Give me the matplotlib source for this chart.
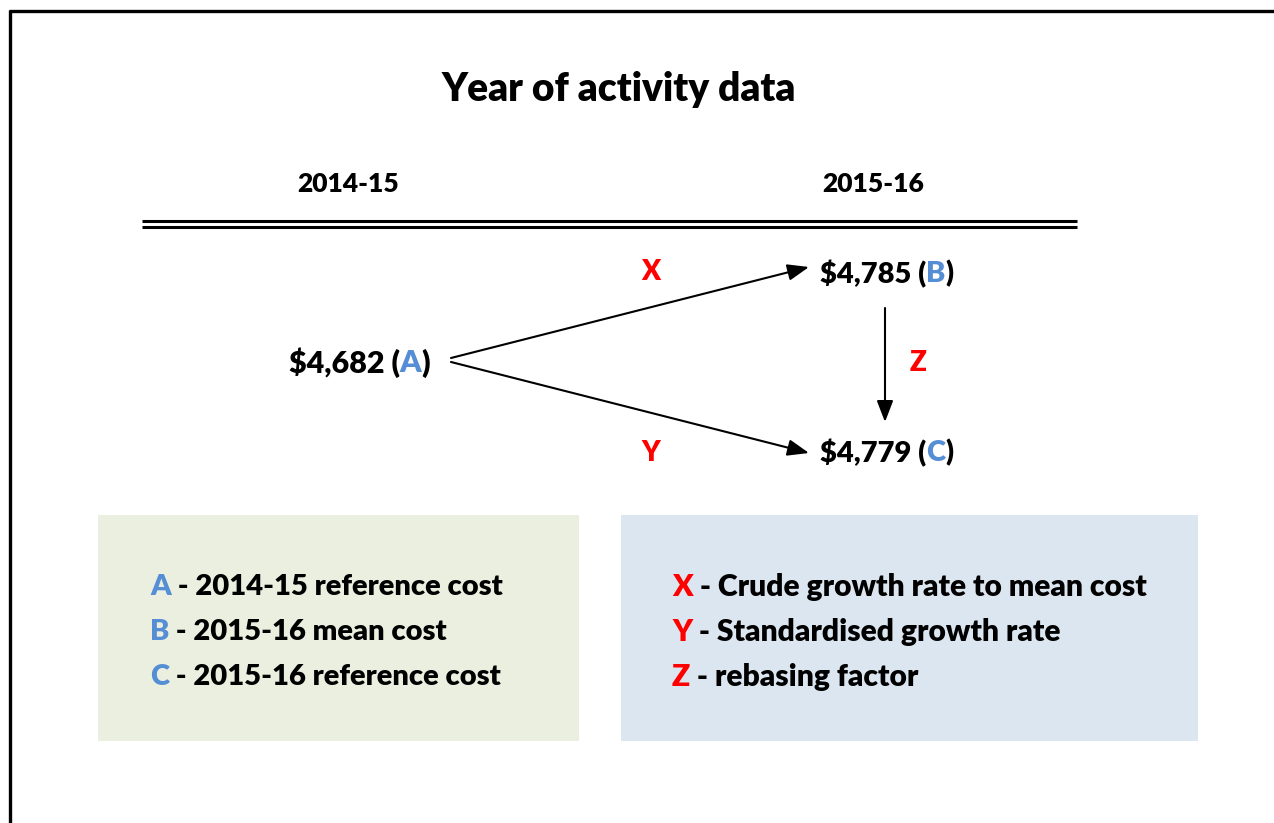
import matplotlib.pyplot as plt
from matplotlib.patches import Rectangle

# ---- data ----
title = "Year of activity data"
years = ["2014-15", "2015-16"]
costs = ["$4,682", "$4,785", "$4,779"]
cost_keys = ["A", "B", "C"]
growth_keys = ["X", "Y", "Z"]
key_desc = ["2014-15 reference cost", "2015-16 mean cost", "2015-16 reference cost"]
growth_desc = ["Crude growth rate to mean cost", "Standardised growth rate", "rebasing factor"]

BLUE = "#558ed5"
RED = "#ff0000"
FONT = "Lato"
W = "heavy"

plt.rcParams['font.family'] = [FONT, 'DejaVu Sans']

fig = plt.figure(figsize=(12.74, 8.23), dpi=100)
ax = fig.add_axes([0, 0, 1, 1])
ax.set_xlim(0, 1274)
ax.set_ylim(823, 0)
ax.axis("off")
renderer = fig.canvas.get_renderer()


def parts_text(x, y, parts, size, ha="left"):
    # draw a row of coloured pieces, measuring each one
    objs = []
    widths = []
    for s, c in parts:
        t = ax.text(0, y, s, color=c, fontsize=size, fontweight=W,
                    va="center", ha="left")
        widths.append(t.get_window_extent(renderer).width)
        objs.append(t)
    total = sum(widths)
    if ha == "center":
        x0 = x - total / 2
    elif ha == "right":
        x0 = x - total
    else:
        x0 = x
    for t, w in zip(objs, widths):
        t.set_x(x0)
        x0 += w


# frame (top + left only)
ax.plot([9, 1274], [11, 11], color="black", lw=2.4, solid_capstyle="butt")
ax.plot([9.5, 9.5], [10, 823], color="black", lw=2.4, solid_capstyle="butt")

# title + column headers
ax.text(619, 89, title, fontsize=28, fontweight=W, ha="center", va="center")
ax.text(348, 184, years[0], fontsize=19, fontweight=W, ha="center", va="center")
ax.text(873, 184, years[1], fontsize=19, fontweight=W, ha="center", va="center")

# double rule
ax.plot([142, 1077], [221, 221], color="black", lw=2.2, solid_capstyle="butt")
ax.plot([142, 1077], [226.5, 226.5], color="black", lw=2.2, solid_capstyle="butt")

# cost values
parts_text(430, 363, [(costs[0] + " (", "black"), (cost_keys[0], BLUE), (")", "black")], 22, ha="right")
parts_text(820, 274, [(costs[1] + " (", "black"), (cost_keys[1], BLUE), (")", "black")], 21)
parts_text(820, 453, [(costs[2] + " (", "black"), (cost_keys[2], BLUE), (")", "black")], 21)

# arrows
aprops = dict(arrowstyle="-|>,head_length=1.3,head_width=0.5", color="black", lw=1.5,
              shrinkA=0, shrinkB=0)
ax.annotate("", xy=(809, 267), xytext=(451, 358), arrowprops=aprops)
ax.annotate("", xy=(809, 453), xytext=(451, 362), arrowprops=aprops)
ax.annotate("", xy=(885, 422), xytext=(885, 308), arrowprops=aprops)

ax.text(651, 272, growth_keys[0], color=RED, fontsize=20, fontweight=W, ha="center", va="center")
ax.text(651, 453, growth_keys[1], color=RED, fontsize=20, fontweight=W, ha="center", va="center")
ax.text(918, 363, growth_keys[2], color=RED, fontsize=20, fontweight=W, ha="center", va="center")

# key boxes
ax.add_patch(Rectangle((98, 515), 481, 226, facecolor="#ebefdf", edgecolor="none"))
ax.add_patch(Rectangle((621, 515), 577, 226, facecolor="#dce6f0", edgecolor="none"))

rows_y = [587, 632, 677]
for k, d, yy in zip(cost_keys, key_desc, rows_y):
    parts_text(150, yy, [(k, BLUE), (" - " + d, "black")], 21)
for k, d, yy in zip(growth_keys, growth_desc, rows_y):
    parts_text(672, yy, [(k, RED), (" - " + d, "black")], 21.6)

fig.savefig("out.png", dpi=100)
